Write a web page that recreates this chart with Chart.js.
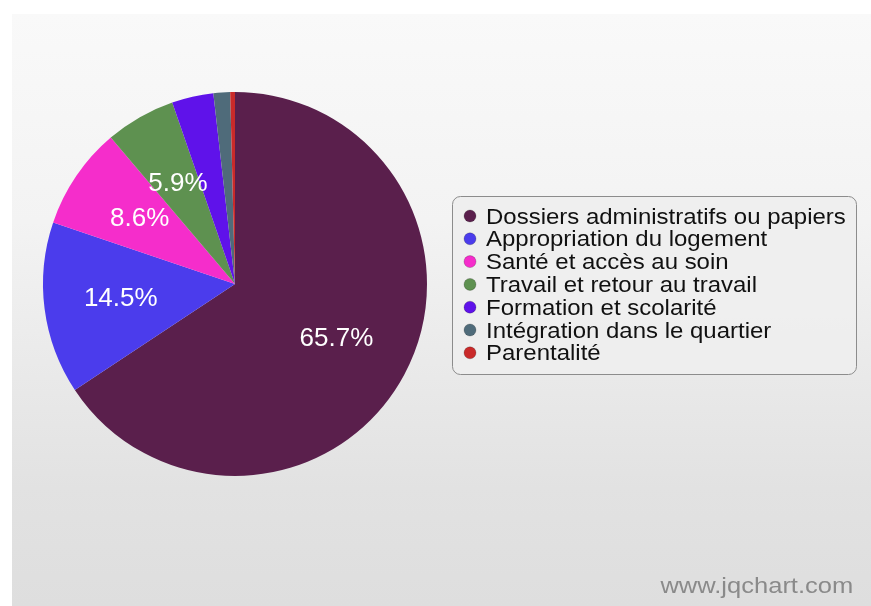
<!DOCTYPE html>
<html>
<head>
<meta charset="utf-8">
<script src="https://cdn.jsdelivr.net/npm/chart.js@4/dist/chart.umd.min.js"></script>
<style>
  html, body { margin: 0; padding: 0; background: #fff; }
  #wrap { position: relative; width: 871px; height: 606px; overflow: hidden; }
  #panel {
    position: absolute; left: 12px; top: 14px; right: 0; bottom: 0;
    background: linear-gradient(#f9f9f9 0%, #f3f3f3 35%, #e2e2e2 80%, #dedede 100%);
  }
  #pie { position: absolute; left: 0; top: 0; }
  #mark {
    position: absolute; right: 18px; top: 573px;
    font: 22px "Liberation Sans", Arial, sans-serif; color: #8a8a8a;
    transform: scaleX(1.16); transform-origin: right top;
  }
</style>
</head>
<body>
<div id="wrap">
  <div id="panel"></div>
  <canvas id="pie" width="871" height="606"></canvas>
  <div id="mark">www.jqchart.com</div>
</div>
<script>
(() => {
    'use strict';

    // ── Data ──────────────────────────────────────────────────────────────────
    const categories = [
        'Dossiers administratifs ou papiers',
        'Appropriation du logement',
        'Santé et accès au soin',
        'Travail et retour au travail',
        'Formation et scolarité',
        'Intégration dans le quartier',
        'Parentalité'
    ];
    const shares = [65.7, 14.5, 8.6, 5.9, 3.5, 1.4, 0.4];
    const colors = ['#5a1f4c', '#4b3cec', '#f52dcb', '#5e9150', '#5f12ea', '#4f6b7a', '#c92a2a'];

    const FONT = '"Liberation Sans", Arial, sans-serif';

    // Percent labels inside the bigger slices
    const sliceLabels = {
        id: 'sliceLabels',
        afterDatasetsDraw(chart) {
            const { ctx } = chart;
            const meta = chart.getDatasetMeta(0);
            const total = shares.reduce((a, b) => a + b, 0);
            ctx.save();
            ctx.font = '26px ' + FONT;
            ctx.fillStyle = '#ffffff';
            ctx.textAlign = 'center';
            ctx.textBaseline = 'middle';
            meta.data.forEach((arc, i) => {
                const pct = shares[i] / total * 100;
                if (pct < 5) return;
                const mid = (arc.startAngle + arc.endAngle) / 2;
                const r = arc.outerRadius * 0.6;
                ctx.fillText(shares[i].toFixed(1) + '%', arc.x + Math.cos(mid) * r, arc.y + Math.sin(mid) * r);
            });
            ctx.restore();
        }
    };

    // Boxed legend to the right of the pie
    const boxLegend = {
        id: 'boxLegend',
        afterDraw(chart) {
            const { ctx } = chart;
            const x = 452.5, y = 196.5, w = 404, h = 178, rad = 8;
            ctx.save();
            ctx.beginPath();
            ctx.roundRect(x, y, w, h, rad);
            ctx.fillStyle = 'rgba(238,238,238,0.9)';
            ctx.fill();
            ctx.strokeStyle = '#8c8c8c';
            ctx.lineWidth = 1;
            ctx.stroke();

            ctx.font = '22px ' + FONT;
            ctx.textBaseline = 'alphabetic';
            const meta = chart.getDatasetMeta(0);
            chart.data.labels.forEach((label, i) => {
                const ly = 216 + i * 22.8;
                ctx.beginPath();
                ctx.arc(470, ly, 6, 0, Math.PI * 2);
                ctx.fillStyle = meta.data[i].options.backgroundColor;
                ctx.fill();
                ctx.strokeStyle = 'rgba(0,0,0,0.2)';
                ctx.stroke();
                ctx.save();
                ctx.translate(486, ly + 7.5);
                ctx.scale(1.09, 1);
                ctx.fillStyle = '#111111';
                ctx.fillText(label, 0, 0);
                ctx.restore();
            });
            ctx.restore();
        }
    };

    new Chart(document.getElementById('pie').getContext('2d'), {
        type: 'pie',
        data: {
            labels: categories,
            datasets: [{
                data: shares,
                backgroundColor: colors,
                borderWidth: 0
            }]
        },
        options: {
            responsive: false,
            animation: false,
            layout: { padding: { left: 43, top: 92, right: 444, bottom: 130 } },
            plugins: {
                legend: { display: false },
                tooltip: { enabled: false }
            }
        },
        plugins: [sliceLabels, boxLegend]
    });
})();
</script>
</body>
</html>
